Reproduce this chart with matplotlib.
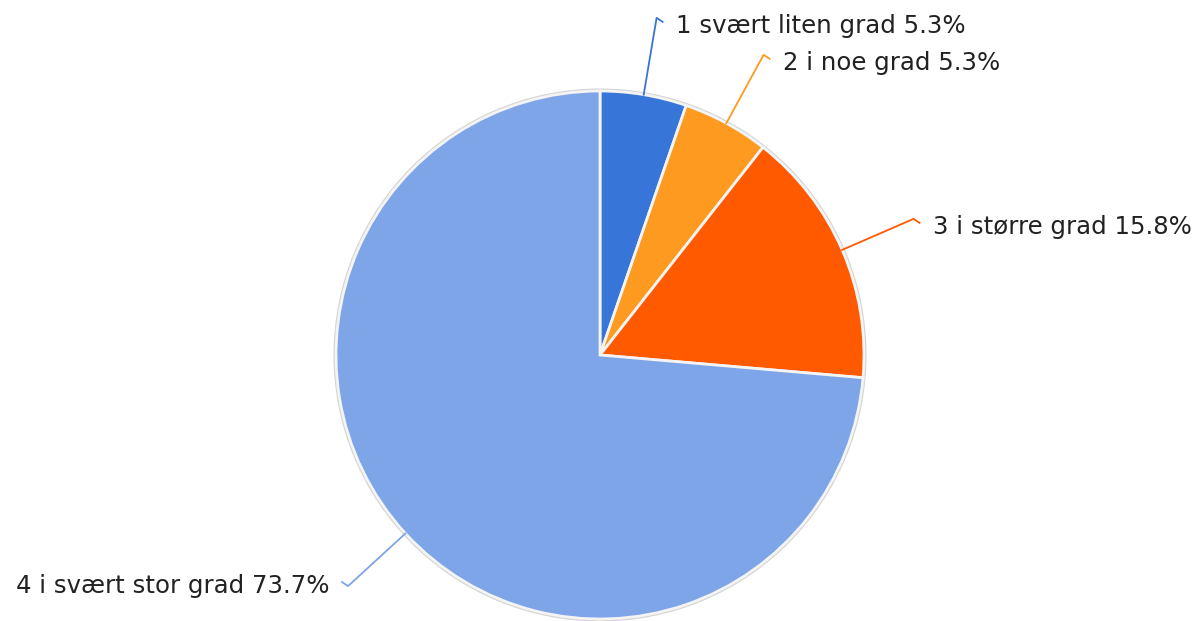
import numpy as np
import matplotlib.pyplot as plt
from matplotlib.patches import Circle

labels = ['1 svært liten grad', '2 i noe grad', '3 i større grad', '4 i svært stor grad']
values = [5.3, 5.3, 15.8, 73.7]
colors = ['#3875d9', '#ff9a20', '#ff5a00', '#7ea5e8']

W, H = 1192, 621
cx, cy = 600, H - 355   # pie centre in pixel units (y up)
R = 264

fig = plt.figure(figsize=(W / 100, H / 100), dpi=100)
ax = fig.add_axes([0, 0, 1, 1])

# light grey rim behind the pie
ax.add_patch(Circle((cx, cy), R + 2.5, facecolor='#d4d4d4', edgecolor='none', zorder=0))

wedges, _ = ax.pie(values, colors=colors, startangle=90, counterclock=False,
                   center=(cx, cy), radius=R,
                   wedgeprops=dict(edgecolor='#f4f4f4', linewidth=2))
for w in wedges:
  w.set_zorder(1)

# leader lines and labels
for w, lab, val, col in zip(wedges, labels, values, colors):
  ang = np.deg2rad((w.theta1 + w.theta2) / 2)
  x0, y0 = cx + R * np.cos(ang), cy + R * np.sin(ang)
  x1, y1 = cx + 1.295 * R * np.cos(ang), cy + 1.295 * R * np.sin(ang)
  side = 1 if np.cos(ang) >= 0 else -1
  x2 = x1 + 6 * side
  y2 = y1 - 4 * np.sign(y1 - cy)
  ax.plot([x0, x1, x2], [y0, y1, y2], color=col, lw=1.3, zorder=2)
  ax.text(x2 + 13 * side, y2 - 11, '{0} {1}%'.format(lab, val),
          ha='left' if side > 0 else 'right', va='baseline',
          fontsize=17.6, color='#222222', family='DejaVu Sans')

ax.set_xlim(0, W)
ax.set_ylim(0, H)
ax.set_aspect('equal')
ax.axis('off')

plt.savefig('out.png', dpi=100)
plt.close()
